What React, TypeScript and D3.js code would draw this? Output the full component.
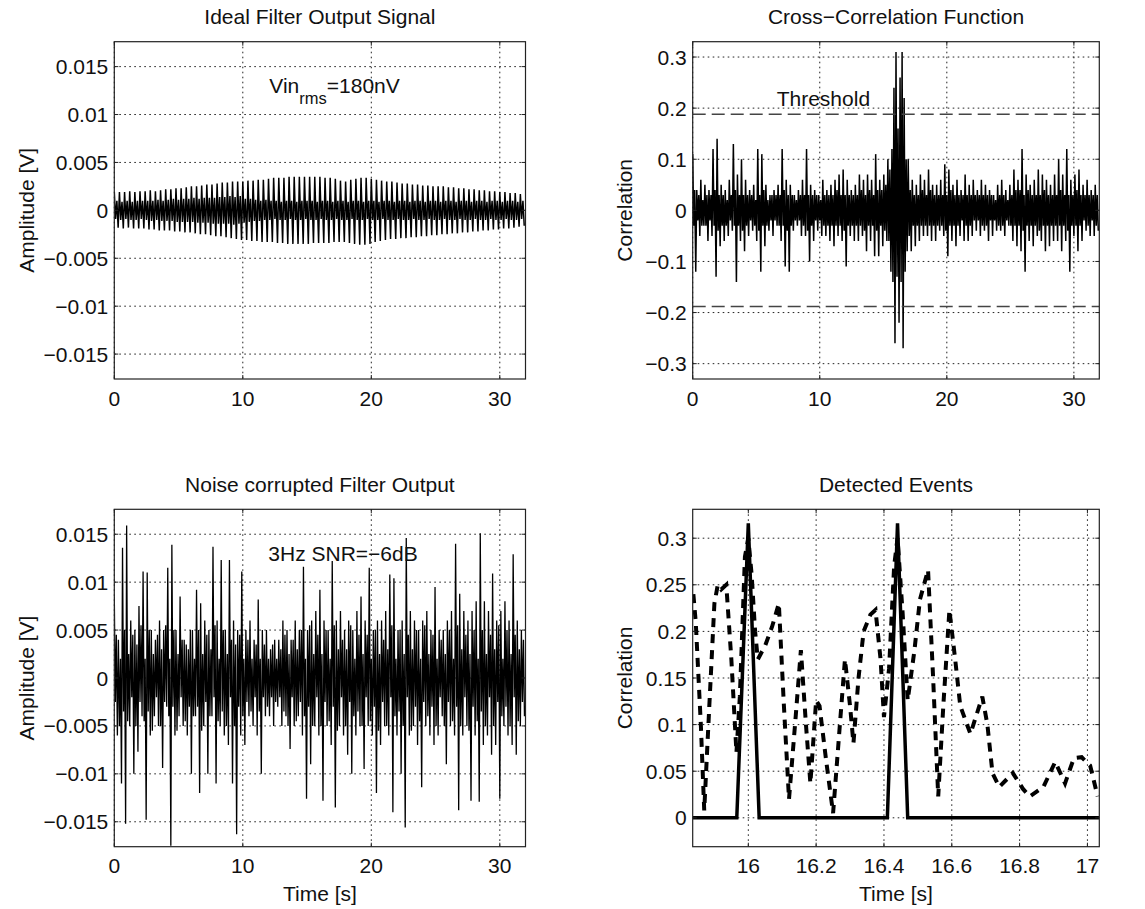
import React from "react";
import * as d3 from "d3";

const W = 1145;
const H = 909;
const FONT = "'Liberation Sans', Arial, Helvetica, sans-serif";
const FS = 21;

// ---------- Panel 1: ideal filter output (peak values, mV, every 0.1 s)
const idealStep = 0.1;
const idealMv = [
  1.9, -0.9, 1.0, -1.8, 1.9, -1.0, 0.9, -1.9, 1.9, -0.9, 1.0, -1.8, 2.0, -1.0, 0.9, -1.9,
  1.9, -1.0, 1.0, -1.9, 2.0, -0.9, 1.0, -1.9, 2.0, -1.0, 1.0, -2.0, 2.1, -1.1, 1.0, -2.0,
  2.0, -1.0, 1.1, -2.1, 2.1, -1.1, 1.0, -2.1, 2.2, -1.1, 1.1, -2.1, 2.2, -1.1, 1.2, -2.2,
  2.3, -1.2, 1.1, -2.2, 2.3, -1.2, 1.2, -2.3, 2.4, -1.2, 1.2, -2.3, 2.5, -1.2, 1.3, -2.4,
  2.5, -1.3, 1.2, -2.5, 2.6, -1.3, 1.3, -2.5, 2.7, -1.3, 1.3, -2.6, 2.7, -1.4, 1.3, -2.7,
  2.8, -1.4, 1.4, -2.7, 2.9, -1.4, 1.4, -2.8, 2.9, -1.4, 1.5, -2.9, 3.0, -1.5, 1.4, -3.0,
  3.0, -1.4, 1.5, -3.1, 3.0, -1.3, 1.2, -3.1, 3.1, -1.2, 1.2, -3.2, 3.1, -1.1, 1.1, -3.2,
  3.2, -1.1, 1.0, -3.3, 3.2, -1.0, 1.1, -3.3, 3.3, -1.0, 1.0, -3.3, 3.4, -0.9, 1.0, -3.4,
  3.4, -1.0, 0.9, -3.4, 3.4, -1.0, 1.0, -3.5, 3.5, -0.9, 1.0, -3.5, 3.5, -1.0, 0.9, -3.5,
  3.5, -1.0, 1.0, -3.5, 3.5, -0.9, 1.0, -3.5, 3.5, -1.0, 1.0, -3.4, 3.5, -1.0, 0.9, -3.4,
  3.5, -0.9, 1.0, -3.4, 3.4, -1.0, 1.0, -3.4, 3.4, -1.0, 0.9, -3.3, 3.3, -0.9, 1.0, -3.3,
  3.1, -1.0, 1.0, -3.3, 3.0, -1.0, 0.9, -3.4, 3.2, -0.9, 1.0, -3.5, 3.3, -1.0, 1.0, -3.6,
  3.4, -1.0, 0.9, -3.6, 3.4, -0.9, 1.0, -3.5, 3.3, -1.0, 1.0, -3.3, 3.2, -1.0, 0.9, -3.2,
  3.1, -0.9, 1.0, -3.1, 3.0, -1.0, 1.0, -3.0, 3.0, -1.0, 0.9, -3.0, 2.9, -0.9, 1.0, -2.9,
  2.8, -1.0, 1.0, -2.9, 2.8, -1.0, 0.9, -2.8, 2.7, -0.9, 1.0, -2.8, 2.7, -1.0, 1.0, -2.7,
  2.6, -1.0, 0.9, -2.7, 2.6, -0.9, 1.0, -2.6, 2.5, -1.0, 1.0, -2.6, 2.5, -1.0, 0.9, -2.5,
  2.5, -0.9, 1.0, -2.5, 2.4, -1.0, 1.0, -2.4, 2.4, -1.0, 0.9, -2.4, 2.3, -0.9, 1.0, -2.3,
  2.3, -1.0, 1.0, -2.3, 2.2, -1.0, 0.9, -2.2, 2.2, -0.9, 1.0, -2.2, 2.1, -1.0, 1.0, -2.1,
  2.1, -1.0, 0.9, -2.1, 2.0, -0.9, 1.0, -2.0, 2.0, -1.0, 1.0, -2.0, 1.9, -1.0, 0.9, -1.9,
  1.9, -0.9, 1.0, -1.9, 1.8, -1.0, 1.0, -1.8, 1.8, -1.0, 0.9, -1.7, 1.7, -0.9, 1.0, -1.6,
];

// ---------- Panel 2: cross-correlation (hundredths, every 0.08 s)
const ccStep = 0.08;
const ccCenti = [
  11, -3, 4, -12, 4, -2, 3, -5, 6, -3, 2, -3, 5, -3, 3, -6, 4, -2, 3, -5,
  12, -3, 4, -13, 14, -4, 3, -7, 5, -3, 3, -6, 4, -3, 2, -5, 6, -2, 3, -4,
  13, -3, 4, -14, 7, -3, 3, -6, 10, -4, 3, -8, 6, -3, 3, -5, 4, -2, 3, -4,
  5, -3, 2, -6, 12, -4, 3, -12, 11, -3, 4, -7, 5, -3, 2, -4, 3, -2, 3, -5,
  4, -2, 3, -3, 5, -3, 3, -6, 12, -3, 4, -11, 6, -4, 3, -12, 5, -3, 3, -4,
  3, -2, 2, -3, 4, -2, 3, -5, 6, -3, 3, -5, 12, -4, 3, -10, 5, -3, 3, -6,
  4, -2, 3, -4, 3, -2, 2, -5, 6, -3, 3, -5, 4, -3, 3, -6, 5, -3, 3, -7,
  6, -3, 4, -5, 7, -3, 3, -6, 8, -4, 3, -11, 6, -3, 3, -5, 4, -3, 3, -6,
  5, -3, 3, -6, 7, -3, 4, -5, 6, -4, 3, -8, 7, -3, 4, -6, 6, -3, 3, -9,
  11, -4, 4, -9, 6, -3, 4, -7, 7, -4, 5, -6, 10, -6, 8, -12, 12, -14, 24, -26,
  31, -13, 16, -22, 26, -14, 31, -27, 22, -12, 10, -8, 10, -5, 4, -8, 6, -3, 3, -7,
  5, -3, 3, -6, 7, -3, 4, -5, 6, -3, 3, -5, 8, -3, 4, -6, 5, -3, 3, -6,
  5, -3, 3, -4, 6, -3, 3, -5, 9, -4, 3, -9, 8, -3, 4, -6, 5, -3, 3, -7,
  6, -3, 3, -5, 4, -2, 3, -6, 7, -3, 3, -6, 5, -3, 3, -5, 6, -2, 3, -4,
  4, -2, 3, -5, 6, -3, 3, -4, 5, -3, 3, -6, 4, -2, 3, -5, 3, -2, 2, -4,
  5, -3, 3, -4, 6, -3, 3, -5, 4, -2, 2, -3, 5, -3, 3, -6, 8, -3, 4, -7,
  6, -3, 4, -8, 12, -4, 3, -12, 7, -3, 4, -6, 5, -3, 3, -7, 6, -3, 3, -5,
  8, -4, 3, -6, 7, -3, 4, -8, 6, -3, 3, -7, 5, -3, 3, -6, 7, -3, 3, -6,
  10, -3, 4, -8, 7, -3, 3, -6, 12, -4, 3, -12, 6, -3, 3, -5, 7, -3, 4, -8,
  8, -3, 3, -6, 5, -2, 3, -4, 6, -3, 3, -5, 4, -2, 3, -5, 5, -3, 3, -4,
];
const thresholdCenti = 18.8;

// ---------- Panel 3: noise corrupted output (mV, every 0.08 s)
const noiseStep = 0.08;
const noiseMv = [
  8.5, -2.5, 4.5, -6, 4, -5, 2, -11, 13.6, -3.5, 5, -15.2, 15.9, -4.5, 2.5, -5, 6, -2, 4.5, -10,
  5, -5, 3.5, -7.7, 7.5, -2.5, 5.5, -4, 11.1, -4.5, 2, -14.8, 11, -3.5, 5, -6, 5, -5.5, 2.5, -4,
  4, -2, 4.5, -5, 6, -5, 3, -9.4, 5, -2.5, 5.5, -3, 11.5, -4, 2, -17.5, 13.9, -3, 5, -6,
  5, -5.5, 2.5, -4, 8.5, -2, 4, -5, 4, -4.5, 3.5, -6, 3, -3, 5, -10, 5, -4, 2, -4,
  9.2, -3, 5, -12, 7.8, -5.5, 2.5, -5, 6, -2.5, 4.5, -10, 5, -4, 3, -4, 13.7, -2, 5.5, -11,
  6, -4.5, 2, -5, 12.3, -3.5, 5, -6, 5, -5, 2.5, -7, 12.3, -2, 4, -11, 6, -5, 3.5, -16.3,
  5, -3, 4.5, -6, 11.1, -4, 2, -7, 5, -2.5, 4, -4, 6, -3.5, 2, -5, 4, -2, 3.5, -6,
  8.2, -3.5, 2, -10, 5, -2, 3.5, -4, 5, -3, 2, -4, 3, -2, 3.5, -5, 4, -2.5, 2, -3,
  4, -2, 3, -5, 6, -3.5, 4.5, -4, 5, -5, 2.5, -7.4, 4, -2, 4, -5, 6, -4.5, 3, -4,
  5, -2.5, 5, -6, 11.6, -4, 2, -12.6, 5, -3, 5.5, -9, 6, -5, 2.5, -5, 7, -2, 4.5, -6,
  9.2, -5, 2.5, -12.8, 6, -2.5, 5, -5, 5, -4.5, 2, -7, 12.2, -3, 5.5, -13.5, 6, -5.5, 3, -5,
  7, -2, 4, -6, 5, -5, 3, -8, 6, -2.5, 5.5, -10, 5, -4, 2, -6, 7, -3.5, 4.5, -5,
  8.5, -5, 2.5, -9.5, 6, -2, 4.5, -5, 11.5, -4.5, 2, -6, 5, -3, 5, -12, 6, -5.5, 2.5, -7,
  6, -2.5, 4, -5, 7, -5, 3, -6, 10.8, -2, 5.5, -14, 10.4, -4, 2, -6, 5, -3.5, 5, -10,
  6, -5, 2.5, -15.6, 14.6, -2, 4.5, -6, 7, -5.5, 3, -5, 6, -3, 5, -7, 5, -4.5, 2, -11.4,
  6, -2.5, 5.5, -5, 7, -4, 2.5, -6, 5, -3, 4.5, -7, 9.5, -5, 2, -6, 5, -2, 4, -4,
  5, -5, 2.5, -9, 6, -2.5, 5, -5, 7, -4.5, 2, -6, 14, -3, 5.5, -13.8, 8.8, -5, 3, -6,
  7, -2, 4.5, -5, 6, -5.5, 2.5, -12.8, 7, -3, 5, -6, 8, -4.5, 2, -12.9, 15.1, -3.5, 5, -7,
  8, -5, 2.5, -6, 7, -2, 4.5, -8, 10.9, -5, 3, -7, 6, -2.5, 5.5, -12.6, 7, -4, 2, -5,
  8, -3, 5, -6, 6, -5, 2.5, -7, 12.9, -2, 4.5, -8, 6, -4.5, 3, -5, 5, -2.5, 4, -4,
];

// ---------- Panel 4: detected events
const evtT = [
  15.838, 15.845, 15.86, 15.87, 15.885, 15.9, 15.91, 15.92, 15.935, 15.95,
  15.965, 15.975, 15.99, 16.0, 16.01, 16.02, 16.028, 16.05, 16.07, 16.09,
  16.105, 16.12, 16.14, 16.155, 16.17, 16.183, 16.2, 16.21, 16.23, 16.25,
  16.27, 16.285, 16.3, 16.31, 16.325, 16.34, 16.36, 16.375, 16.39, 16.4,
  16.415, 16.43, 16.44, 16.455, 16.47, 16.49, 16.506, 16.53, 16.545, 16.56,
  16.575, 16.593, 16.61, 16.625, 16.655, 16.69, 16.705, 16.72, 16.74, 16.78,
  16.81, 16.83, 16.87, 16.905, 16.934, 16.96, 16.983, 17.008, 17.03,
];
const evtV = [
  0.24, 0.21, 0.1, 0.008, 0.12, 0.23, 0.25, 0.245, 0.25, 0.17,
  0.07, 0.13, 0.28, 0.3, 0.26, 0.2, 0.17, 0.185, 0.205, 0.23,
  0.12, 0.02, 0.11, 0.18, 0.1, 0.037, 0.126, 0.12, 0.06, 0.005,
  0.1, 0.17, 0.12, 0.08, 0.15, 0.2, 0.218, 0.223, 0.17, 0.108,
  0.16, 0.27, 0.3, 0.22, 0.126, 0.18, 0.234, 0.266, 0.15, 0.023,
  0.12, 0.223, 0.17, 0.12, 0.09, 0.13, 0.1, 0.048, 0.033, 0.048,
  0.031, 0.023, 0.033, 0.06, 0.037, 0.064, 0.065, 0.056, 0.023,
];
const detT = [15.836, 15.966, 16.0, 16.032, 16.41, 16.44, 16.47, 17.035];
const detV = [0, 0, 0.316, 0, 0, 0.316, 0, 0];

// ---------- ticks
const ampTicksMv = [-15, -10, -5, 0, 5, 10, 15];
const corrTicksCenti = [-30, -20, -10, 0, 10, 20, 30];
const timeTicks = [0, 10, 20, 30];
const evtXTicks = [16, 16.2, 16.4, 16.6, 16.8, 17];
const evtYTicks = [0, 0.05, 0.1, 0.15, 0.2, 0.25, 0.3];

const fmtNum = (v: number) => {
  const s = String(+v.toFixed(6));
  return s.replace("-", "\u2212");
};

type AxesProps = {
  id: string;
  L: number; T: number; R: number; B: number;
  x: d3.ScaleLinear<number, number>;
  y: d3.ScaleLinear<number, number>;
  xTicks: number[]; yTicks: number[];
  xFmt: (v: number) => string; yFmt: (v: number) => string;
  title: string; yLabel: string; yLabelX: number; xLabel?: string;
  children?: React.ReactNode;
};

function Axes(p: AxesProps) {
  const { id, L, T, R, B, x, y } = p;
  const txt = { fontFamily: FONT, fontSize: FS, fill: "#111" } as const;
  const tickLen = 4;
  return (
    <g>
      <defs>
        <clipPath id={id}>
          <rect x={L} y={T} width={R - L} height={B - T} />
        </clipPath>
      </defs>
      <rect x={L} y={T} width={R - L} height={B - T} fill="#fff" />
      {p.xTicks.map((t) => (
        <line key={"gx" + t} x1={x(t)} x2={x(t)} y1={T} y2={B} stroke="#222" strokeWidth={1} strokeDasharray="1.6,3.4" />
      ))}
      {p.yTicks.map((t) => (
        <line key={"gy" + t} x1={L} x2={R} y1={y(t)} y2={y(t)} stroke="#222" strokeWidth={1} strokeDasharray="1.6,3.4" />
      ))}
      <g clipPath={`url(#${id})`}>{p.children}</g>
      {p.xTicks.map((t) => (
        <g key={"tx" + t}>
          <line x1={x(t)} x2={x(t)} y1={B} y2={B - tickLen} stroke="#222" />
          <line x1={x(t)} x2={x(t)} y1={T} y2={T + tickLen} stroke="#222" />
        </g>
      ))}
      {p.yTicks.map((t) => (
        <g key={"ty" + t}>
          <line x1={L} x2={L + tickLen} y1={y(t)} y2={y(t)} stroke="#222" />
          <line x1={R} x2={R - tickLen} y1={y(t)} y2={y(t)} stroke="#222" />
        </g>
      ))}
      <rect x={L} y={T} width={R - L} height={B - T} fill="none" stroke="#222" strokeWidth={1.2} />
      {p.xTicks.map((t) => (
        <text key={"lx" + t} x={x(t)} y={B + 26.5} textAnchor="middle" {...txt}>
          {p.xFmt(t)}
        </text>
      ))}
      {p.yTicks.map((t) => (
        <text key={"ly" + t} x={L - 6} y={y(t) + 7.5} textAnchor="end" {...txt}>
          {p.yFmt(t)}
        </text>
      ))}
      <text x={(L + R) / 2} y={T - 17.7} textAnchor="middle" {...txt}>
        {p.title}
      </text>
      <text
        transform={`translate(${p.yLabelX},${(T + B) / 2}) rotate(-90)`}
        textAnchor="middle"
        {...txt}
      >
        {p.yLabel}
      </text>
      {p.xLabel ? (
        <text x={(L + R) / 2} y={B + 54} textAnchor="middle" {...txt}>
          {p.xLabel}
        </text>
      ) : null}
    </g>
  );
}

export default function App() {
  const leftL = 114.3, leftR = 525.5, rightL = 692.7, rightR = 1099.3;
  const topT = 41.7, topB = 379, botT = 509.3, botB = 846.7;

  // Panel 1
  const x1 = d3.scaleLinear().domain([0, 32]).range([leftL, leftR]);
  const y1 = d3.scaleLinear().domain([-17.6, 17.6]).range([topB, topT]);
  const ideal = d3.line<number>().x((_, i) => x1(i * idealStep)).y((d) => y1(d))(idealMv) || "";

  // Panel 2
  const x2 = d3.scaleLinear().domain([0, 32]).range([rightL, rightR]);
  const y2 = d3.scaleLinear().domain([-33, 33]).range([topB, topT]);
  const cc = d3.line<number>().x((_, i) => x2(i * ccStep)).y((d) => y2(d))(ccCenti) || "";

  // Panel 3
  const x3 = d3.scaleLinear().domain([0, 32]).range([leftL, leftR]);
  const y3 = d3.scaleLinear().domain([-17.6, 17.6]).range([botB, botT]);
  const noise = d3.line<number>().x((_, i) => x3(i * noiseStep)).y((d) => y3(d))(noiseMv) || "";

  // Panel 4
  const x4 = d3.scaleLinear().domain([15.836, 17.035]).range([rightL, rightR]);
  const y4 = d3.scaleLinear().domain([-0.031, 0.331]).range([botB, botT]);
  const evt = d3.line<number>().x((d) => x4(d)).y((_, i) => y4(evtV[i]))(evtT) || "";
  const det = d3.line<number>().x((d) => x4(d)).y((_, i) => y4(detV[i]))(detT) || "";

  const txt = { fontFamily: FONT, fontSize: FS, fill: "#111" } as const;

  return (
    <div style={{ position: "absolute", left: 0, top: 0, width: W, height: H, background: "#fff" }}>
      <svg width={W} height={H} viewBox={`0 0 ${W} ${H}`} style={{ display: "block" }}>
        <rect x={0} y={0} width={W} height={H} fill="#fff" />

        <Axes
          id="c1" L={leftL} T={topT} R={leftR} B={topB} x={x1} y={y1}
          xTicks={timeTicks} yTicks={ampTicksMv}
          xFmt={fmtNum} yFmt={(v) => fmtNum(v / 1000)}
          title="Ideal Filter Output Signal" yLabel="Amplitude [V]" yLabelX={34}
        >
          <path d={ideal} fill="none" stroke="#000" strokeWidth={1.5} />
        </Axes>
        <text x={269.3} y={93.3} {...txt}>
          Vin
          <tspan fontSize={16.5} dy={11}>rms</tspan>
          <tspan dy={-11}>=180nV</tspan>
        </text>

        <Axes
          id="c2" L={rightL} T={topT} R={rightR} B={topB} x={x2} y={y2}
          xTicks={timeTicks} yTicks={corrTicksCenti}
          xFmt={fmtNum} yFmt={(v) => fmtNum(v / 100)}
          title={"Cross\u2212Correlation Function"} yLabel="Correlation" yLabelX={631.5}
        >
          <path d={cc} fill="none" stroke="#000" strokeWidth={1.5} />
          <line x1={rightL} x2={rightR} y1={y2(thresholdCenti)} y2={y2(thresholdCenti)} stroke="#444" strokeWidth={1.6} strokeDasharray="13,6" />
          <line x1={rightL} x2={rightR} y1={y2(-thresholdCenti)} y2={y2(-thresholdCenti)} stroke="#444" strokeWidth={1.6} strokeDasharray="13,6" />
        </Axes>
        <text x={776.7} y={106} {...txt}>Threshold</text>

        <Axes
          id="c3" L={leftL} T={botT} R={leftR} B={botB} x={x3} y={y3}
          xTicks={timeTicks} yTicks={ampTicksMv}
          xFmt={fmtNum} yFmt={(v) => fmtNum(v / 1000)}
          title="Noise corrupted Filter Output" yLabel="Amplitude [V]" yLabelX={34}
          xLabel="Time [s]"
        >
          <path d={noise} fill="none" stroke="#000" strokeWidth={1.3} />
        </Axes>
        <text x={268.3} y={560.7} {...txt}>{"3Hz SNR=\u22126dB"}</text>

        <Axes
          id="c4" L={rightL} T={botT} R={rightR} B={botB} x={x4} y={y4}
          xTicks={evtXTicks} yTicks={evtYTicks}
          xFmt={fmtNum} yFmt={fmtNum}
          title="Detected Events" yLabel="Correlation" yLabelX={631.5}
          xLabel="Time [s]"
        >
          <path d={evt} fill="none" stroke="#000" strokeWidth={4} strokeDasharray="9,7" />
          <path d={det} fill="none" stroke="#000" strokeWidth={3.5} strokeLinejoin="miter" />
        </Axes>
      </svg>
    </div>
  );
}
